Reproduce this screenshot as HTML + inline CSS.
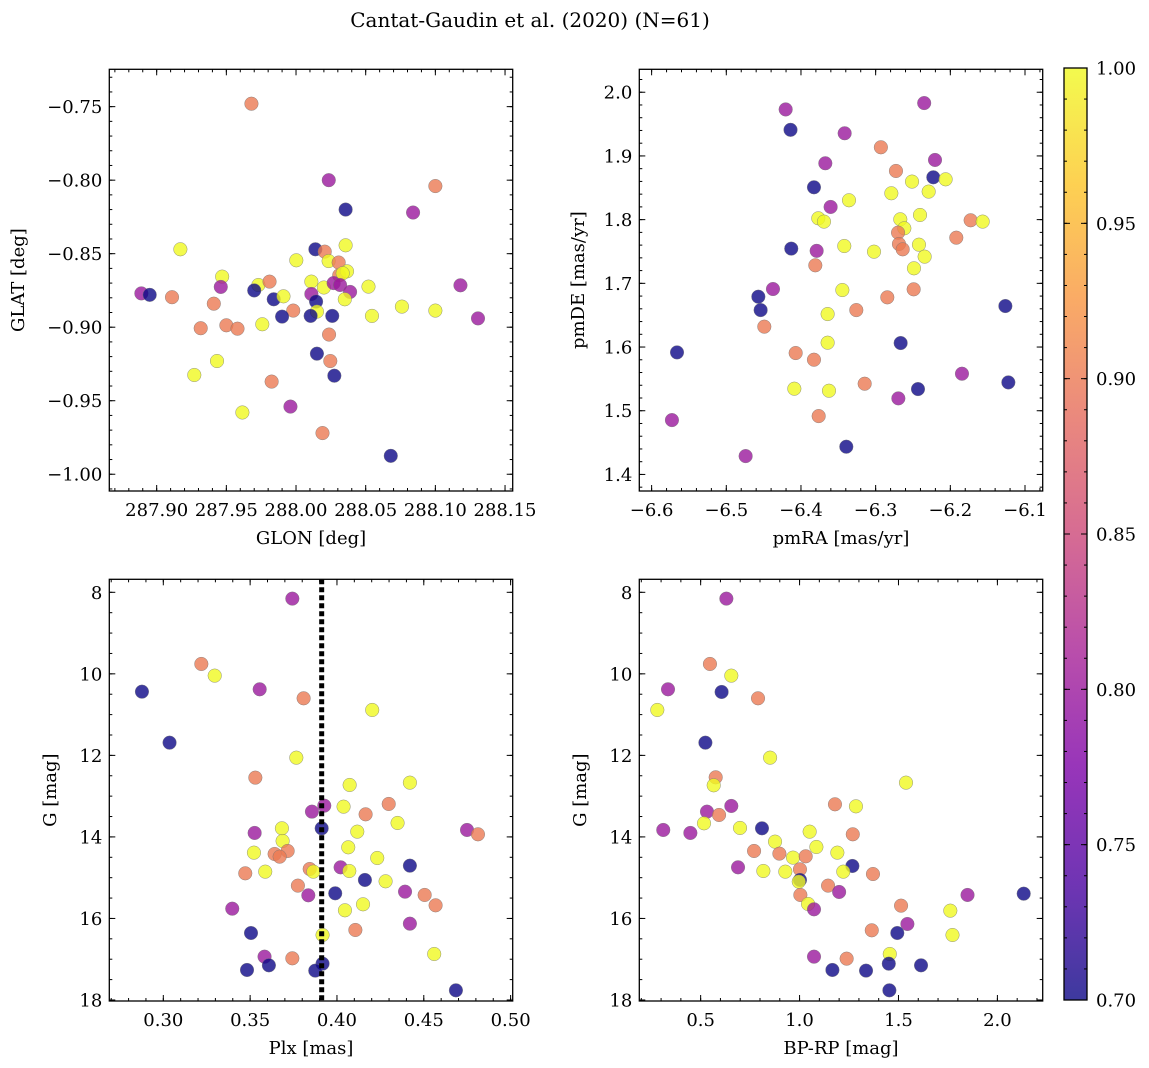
<!DOCTYPE html>
<html><head><meta charset="utf-8">
<style>
html,body{margin:0;padding:0;background:#fff;}
svg{display:block;font-family:"DejaVu Serif","Liberation Serif",serif;}
</style></head>
<body>
<svg id="chart" width="1149" height="1068" viewBox="0 0 1149 1068" xmlns="http://www.w3.org/2000/svg">
<defs>
<linearGradient id="cbgrad" x1="0" y1="1" x2="0" y2="0">
<stop offset="0" stop-color="#0d0887"/><stop offset="0.125" stop-color="#4c02a1"/>
<stop offset="0.25" stop-color="#7e03a8"/><stop offset="0.375" stop-color="#a82296"/>
<stop offset="0.5" stop-color="#cc4778"/><stop offset="0.625" stop-color="#e56b5d"/>
<stop offset="0.75" stop-color="#f89540"/><stop offset="0.875" stop-color="#fdc527"/>
<stop offset="1" stop-color="#f0f921"/>
</linearGradient>
</defs>
<text x="530" y="27" text-anchor="middle" font-size="20">Cantat-Gaudin et al. (2020) (N=61)</text>
</svg>
<script>
// Panel 1: GLON vs GLAT
const glon=[287.968,288.0235,288.100,288.0356,288.084,287.917,288.0139,288.0206,288.0356,288.0002,288.0234,288.0306,288.031,288.0366,288.0335,287.947,287.946,287.973,287.970,287.981,288.011,288.020,288.027,288.0316,288.0388,288.052,288.118,287.889,287.895,287.911,287.984,287.991,288.011,288.0144,288.035,287.941,288.076,288.100,287.998,288.015,288.0105,288.026,287.990,288.0545,288.1306,287.9758,287.950,287.958,287.9316,288.0237,288.015,287.9433,288.0246,287.927,288.0275,287.9825,287.9615,287.996,288.019,288.068];
const glat=[-0.748,-0.800,-0.804,-0.820,-0.822,-0.847,-0.847,-0.8486,-0.8443,-0.8545,-0.855,-0.856,-0.8647,-0.862,-0.8633,-0.8656,-0.8726,-0.8713,-0.875,-0.869,-0.869,-0.873,-0.870,-0.8713,-0.876,-0.8724,-0.8715,-0.877,-0.878,-0.8796,-0.881,-0.879,-0.8774,-0.8826,-0.881,-0.884,-0.886,-0.8887,-0.8887,-0.8894,-0.8923,-0.8923,-0.8928,-0.8923,-0.894,-0.898,-0.8987,-0.901,-0.9007,-0.905,-0.918,-0.923,-0.923,-0.9325,-0.933,-0.937,-0.958,-0.954,-0.972,-0.9875];
const prob1=[0.9,0.8,0.9,0.7,0.8,1,0.7,0.9,1,1,1,0.9,0.9,1,1,1,0.8,1,0.7,0.9,1,1,0.8,0.8,0.8,1,0.8,0.8,0.7,0.9,0.7,1,0.8,0.7,1,0.9,1,1,0.9,1,0.7,0.7,0.7,1,0.8,1,0.9,0.9,0.9,0.9,0.7,1,0.9,1,0.7,0.9,1,0.8,0.9,0.7];
// Panel 2: pmRA vs pmDE
const pmra=[-6.4205,-6.235,-6.414,-6.3415,-6.293,-6.3674,-6.2728,-6.2205,-6.2228,-6.2063,-6.2513,-6.3826,-6.279,-6.229,-6.3357,-6.3603,-6.3768,-6.3692,-6.2406,-6.267,-6.2616,-6.27,-6.2688,-6.2638,-6.1728,-6.1567,-6.192,-6.413,-6.379,-6.342,-6.3022,-6.242,-6.2344,-6.2487,-6.3808,-6.4375,-6.3446,-6.2491,-6.2844,-6.4571,-6.454,-6.3259,-6.3643,-6.1263,-6.4491,-6.3643,-6.2665,-6.566,-6.4071,-6.3826,-6.1844,-6.3147,-6.1223,-6.4089,-6.3625,-6.2433,-6.2696,-6.3763,-6.5728,-6.3393,-6.4741];
const pmde=[1.973,1.983,1.941,1.9356,1.9136,1.8885,1.8764,1.8937,1.8665,1.8633,1.8597,1.8508,1.8414,1.844,1.8304,1.8199,1.8021,1.7969,1.8073,1.8005,1.7864,1.7796,1.7618,1.7534,1.799,1.7969,1.7717,1.7545,1.751,1.7586,1.7497,1.7607,1.7419,1.7236,1.7283,1.6911,1.6895,1.6906,1.678,1.679,1.658,1.658,1.6518,1.6644,1.632,1.6068,1.6063,1.5916,1.5906,1.5801,1.5581,1.5424,1.5445,1.5346,1.5314,1.534,1.5194,1.4916,1.4853,1.4435,1.4288];
const prob2=[0.8,0.8,0.7,0.8,0.9,0.8,0.9,0.8,0.7,1,1,0.7,1,1,1,0.8,1,1,1,1,1,0.9,0.9,0.9,0.9,1,0.9,0.7,0.8,1,1,1,1,1,0.9,0.8,1,0.9,0.9,0.7,0.7,0.9,1,0.7,0.9,1,0.7,0.7,0.9,0.9,0.8,0.9,0.7,1,1,0.7,0.8,0.9,0.8,0.7,0.8];
// Panel 3: Plx vs G
const plx=[0.3743,0.3219,0.3296,0.2877,0.3555,0.3808,0.4203,0.3036,0.3766,0.353,0.4073,0.442,0.4298,0.3927,0.3856,0.4038,0.4165,0.4349,0.3683,0.3912,0.4117,0.3526,0.4749,0.4812,0.3687,0.4065,0.3522,0.3716,0.3641,0.367,0.4232,0.442,0.4021,0.3843,0.3864,0.4071,0.3587,0.3472,0.4161,0.428,0.3775,0.399,0.3835,0.4392,0.4505,0.4568,0.415,0.4046,0.3397,0.442,0.3505,0.4106,0.3917,0.456,0.3583,0.3743,0.3608,0.3917,0.3482,0.3875,0.4685];
const g3=[8.155,9.758,10.044,10.437,10.379,10.60,10.886,11.688,12.056,12.546,12.726,12.669,13.192,13.233,13.38,13.258,13.446,13.658,13.789,13.789,13.871,13.903,13.83,13.936,14.10,14.255,14.386,14.345,14.419,14.484,14.517,14.705,14.746,14.787,14.852,14.836,14.852,14.893,15.056,15.089,15.195,15.383,15.432,15.343,15.424,15.678,15.653,15.80,15.76,16.128,16.357,16.283,16.406,16.872,16.937,16.978,17.15,17.109,17.264,17.28,17.763];
const prob3=[0.8,0.9,1,0.7,0.8,0.9,1,0.7,1,0.9,1,1,0.9,0.8,0.8,1,0.9,1,1,0.7,1,0.8,0.8,0.9,1,1,1,0.9,0.9,0.9,1,0.7,0.8,0.9,1,1,1,0.9,0.7,1,0.9,0.7,0.8,0.8,0.9,0.9,1,1,0.8,0.8,0.7,0.9,1,1,0.8,0.9,0.7,0.7,0.7,0.7,0.7];
const plxRef=0.3912;
// Panel 4: BP-RP vs G
const bprp=[0.63,0.547,0.655,0.335,0.606,0.79,0.281,0.524,0.851,0.576,0.566,1.538,1.179,0.655,1.285,0.532,0.593,0.517,0.311,0.81,0.699,0.448,1.051,1.269,0.876,1.085,0.77,0.898,1.191,0.967,1.031,0.689,1.267,1.002,0.817,0.928,1.221,1.371,1.002,0.996,1.144,1.2,1.849,2.133,1.004,1.043,1.073,1.513,1.762,1.545,1.494,1.365,1.773,1.456,1.073,1.238,1.451,1.614,1.166,1.336,1.454];
const g4=[8.155,9.758,10.044,10.379,10.445,10.60,10.886,11.688,12.056,12.538,12.734,12.669,13.20,13.241,13.25,13.38,13.462,13.666,13.83,13.789,13.78,13.903,13.871,13.936,14.116,14.247,14.345,14.41,14.386,14.508,14.476,14.746,14.713,14.795,14.836,14.852,14.852,14.91,15.056,15.097,15.195,15.351,15.424,15.392,15.424,15.645,15.776,15.686,15.809,16.136,16.357,16.291,16.406,16.872,16.937,16.986,17.109,17.15,17.264,17.28,17.763];
const prob4=[0.8,0.9,1,0.8,0.7,0.9,1,0.7,1,0.9,1,1,0.9,0.8,1,0.8,0.9,1,0.8,0.7,1,0.8,1,0.9,1,1,0.9,0.9,1,1,0.9,0.8,0.7,0.9,1,1,1,0.9,0.7,1,0.9,0.8,0.8,0.7,0.9,1,0.8,0.9,1,0.8,0.7,0.9,1,1,0.8,0.9,0.7,0.7,0.7,0.7,0.7];
// tick labels
const xt1=[287.90,287.95,288.00,288.05,288.10,288.15];
const yt1=[-0.75,-0.80,-0.85,-0.90,-0.95,-1.00];
const xt2=[-6.6,-6.5,-6.4,-6.3,-6.2,-6.1];
const yt2=[1.4,1.5,1.6,1.7,1.8,1.9,2.0];
const xt3=[0.30,0.35,0.40,0.45,0.50];
const ytG=[8,10,12,14,16,18];
const xt4=[0.5,1.0,1.5,2.0];
const cbTicks=[0.70,0.75,0.80,0.85,0.90,0.95,1.00];
const vmin=0.7,vmax=1.0;

const NS="http://www.w3.org/2000/svg";
const svg=document.getElementById('chart');
function mk(tag,attrs,parent){const e=document.createElementNS(NS,tag);for(const k in attrs)e.setAttribute(k,attrs[k]);(parent||svg).appendChild(e);return e;}
const stops=[[0,13,8,135],[0.125,76,2,161],[0.25,126,3,168],[0.375,168,34,150],[0.5,204,71,120],[0.625,229,107,93],[0.75,248,149,64],[0.875,253,197,39],[1,240,249,33]];
function plasma(v){let t=(v-vmin)/(vmax-vmin);t=Math.max(0,Math.min(1,t));for(let i=1;i<stops.length;i++){if(t<=stops[i][0]){const a=stops[i-1],b=stops[i];const f=(t-a[0])/(b[0]-a[0]);return 'rgb('+[1,2,3].map(j=>Math.round(a[j]+(b[j]-a[j])*f)).join(',')+')';}}return 'rgb(240,249,33)';}
function fmt(v,d){const s=Math.abs(v).toFixed(d);return (v<0?'\u2212':'')+s;}
const TF=18;

function panel(o){
  const g=mk('g',{});
  
  
  const X=v=>o.x0+(v-o.xd[0])/(o.xd[1]-o.xd[0])*(o.x1-o.x0);
  const Y=v=>o.y0+(v-o.yd[0])/(o.yd[1]-o.yd[0])*(o.y1-o.y0);
  const pg=mk('g',{},g);
  
  
  for(let i=0;i<o.xs.length;i++){
    const c=mk('circle',{cx:X(o.xs[i]),cy:Y(o.ys[i]),r:6.8,fill:plasma(o.cs[i]),'fill-opacity':0.8,stroke:'#777','stroke-width':0.5,'stroke-opacity':0.8},pg);
    
    
  }
  if(o.vline!==undefined){
    const l=mk('line',{x1:X(o.vline),x2:X(o.vline),y1:o.y0,y2:o.y1,stroke:'#000','stroke-width':5,'stroke-dasharray':'5,3'},g);
    
    
  }
  const tg=mk('g',{stroke:'#000','stroke-width':1},g);
  
  
  const xmin=Math.min(o.xd[0],o.xd[1]),xmax=Math.max(o.xd[0],o.xd[1]);
  for(let k=Math.ceil(xmin/o.xm-1e-6);k*o.xm<=xmax+1e-9;k++){const x=X(k*o.xm);mk('line',{x1:x,x2:x,y1:o.y1,y2:o.y1-3},tg);mk('line',{x1:x,x2:x,y1:o.y0,y2:o.y0+3},tg);}
  const ymin=Math.min(o.yd[0],o.yd[1]),ymax=Math.max(o.yd[0],o.yd[1]);
  for(let k=Math.ceil(ymin/o.ym-1e-6);k*o.ym<=ymax+1e-9;k++){const y=Y(k*o.ym);mk('line',{x1:o.x0,x2:o.x0+3,y1:y,y2:y},tg);mk('line',{x1:o.x1,x2:o.x1-3,y1:y,y2:y},tg);}
  o.xt.forEach(v=>{const x=X(v);mk('line',{x1:x,x2:x,y1:o.y1,y2:o.y1-6},tg);mk('line',{x1:x,x2:x,y1:o.y0,y2:o.y0+6},tg);
    const t=mk('text',{x:x,y:o.y1+25,'text-anchor':'middle','font-size':TF,stroke:'none'},g);t.textContent=fmt(v,o.xdec);
    });
  o.yt.forEach(v=>{const y=Y(v);mk('line',{x1:o.x0,x2:o.x0+6,y1:y,y2:y},tg);mk('line',{x1:o.x1,x2:o.x1-6,y1:y,y2:y},tg);
    const t=mk('text',{x:o.x0-7,y:y+6.5,'text-anchor':'end','font-size':TF,stroke:'none'},g);t.textContent=fmt(v,o.ydec);
    });
  const fr=mk('rect',{x:o.x0,y:o.y0,width:o.x1-o.x0,height:o.y1-o.y0,fill:'none',stroke:'#000','stroke-width':1.3},g);
  
  const xl=mk('text',{x:(o.x0+o.x1)/2,y:o.y1+53,'text-anchor':'middle','font-size':18},g);xl.textContent=o.xlab;
  
  const yx=o.ylx,yy=(o.y0+o.y1)/2;
  const yl=mk('text',{x:yx,y:yy,'text-anchor':'middle','font-size':18,transform:'rotate(-90 '+yx+' '+yy+')'},g);yl.textContent=o.ylab;
  
}
panel({name:'glon-glat-panel',x0:109.3,x1:512.7,y0:69.3,y1:491,xd:[287.866,288.1555],yd:[-0.7246,-1.0114],xs:glon,ys:glat,cs:prob1,xt:xt1,yt:yt1,xm:0.01,ym:0.01,xdec:2,ydec:2,xlab:'GLON [deg]',ylab:'GLAT [deg]',ylx:24});
panel({name:'pm-panel',x0:639.3,x1:1042.7,y0:69.3,y1:491,xd:[-6.6165,-6.0763],yd:[2.036,1.374],xs:pmra,ys:pmde,cs:prob2,xt:xt2,yt:yt2,xm:0.02,ym:0.02,xdec:1,ydec:1,xlab:'pmRA [mas/yr]',ylab:'pmDE [mas/yr]',ylx:584});
panel({name:'plx-g-panel',x0:109.3,x1:512.7,y0:579.3,y1:1001,xd:[0.2689,0.5012],yd:[7.681,18.025],xs:plx,ys:g3,cs:prob3,xt:xt3,yt:ytG,xm:0.01,ym:0.5,xdec:2,ydec:0,xlab:'Plx [mas]',ylab:'G [mag]',ylx:56,vline:plxRef});
panel({name:'cmd-panel',x0:639.3,x1:1042.7,y0:579.3,y1:1001,xd:[0.1899,2.229],yd:[7.681,18.025],xs:bprp,ys:g4,cs:prob4,xt:xt4,yt:ytG,xm:0.1,ym:0.5,xdec:1,ydec:0,xlab:'BP-RP [mag]',ylab:'G [mag]',ylx:586});

const cb=mk('g',{});


const cx0=1064,cx1=1087,cy0=68,cy1=1000;
mk('rect',{x:cx0,y:cy0,width:cx1-cx0,height:cy1-cy0,fill:'url(#cbgrad)','fill-opacity':0.8},cb);
const CY=v=>cy1-(v-vmin)/(vmax-vmin)*(cy1-cy0);
for(let k=70;k<=100;k++){const y=CY(k/100);mk('line',{x1:cx1,x2:cx1-3,y1:y,y2:y,stroke:'#000','stroke-width':1},cb);mk('line',{x1:cx0,x2:cx0+3,y1:y,y2:y,stroke:'#000','stroke-width':1},cb);}
cbTicks.forEach(v=>{const y=CY(v);mk('line',{x1:cx1,x2:cx1-6,y1:y,y2:y,stroke:'#000','stroke-width':1},cb);mk('line',{x1:cx0,x2:cx0+6,y1:y,y2:y,stroke:'#000','stroke-width':1},cb);
  const t=mk('text',{x:cx1+9,y:y+6.5,'font-size':TF},cb);t.textContent=v.toFixed(2);
  });
mk('rect',{x:cx0,y:cy0,width:cx1-cx0,height:cy1-cy0,fill:'none',stroke:'#000','stroke-width':1.3},cb);
</script>
</body></html>
